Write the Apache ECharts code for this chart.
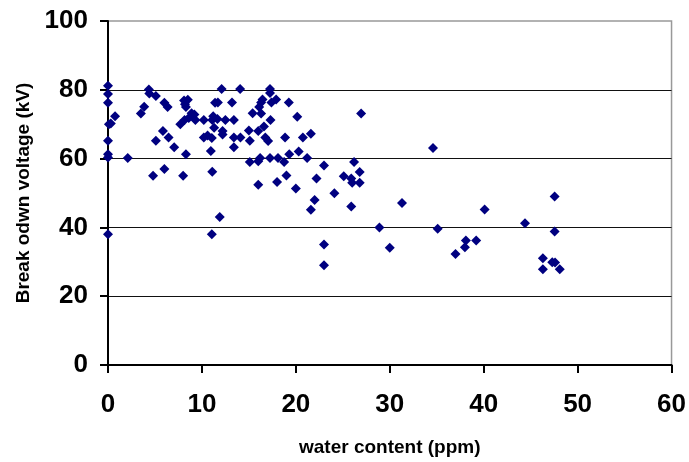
<!DOCTYPE html>
<html>
<head>
<meta charset="utf-8">
<script src="https://cdn.jsdelivr.net/npm/echarts@6/dist/echarts.min.js"></script>
<style>html,body{margin:0;padding:0;background:#fff}#c{width:689px;height:462px}</style>
</head>
<body>
<div id="c"></div>
<script>
// water content (ppm)
const waterContent = [
  0,0,0,0.1,0.3,0,0,0,0,0.75,2.1,
  3.5,3.85,4.35,4.4,5.1,5.1,4.8,5.85,6.0,6.35,6.45,6.0,7.05,7.7,8.0,8.3,
  8.1,8.5,8.2,8.3,8.15,8.6,8.9,9.2,9.3,
  10.2,11.1,10.2,10.6,11.05,11.3,11.2,11.4,11.7,11.65,10.95,11.1,11.05,11.9,
  12.1,12.2,12.2,12.5,13.2,13.4,13.4,13.4,14.07,14.1,
  15.0,15.1,15.1,15.4,16.0,16.0,16.0,16.1,16.3,16.2,16.3,16.45,16.6,16.75,17.05,17.25,17.25,17.3,17.25,17.4,17.9,18.1,18.0,
  18.75,18.85,19.0,19.25,19.3,20.0,20.15,20.3,20.75,21.2,21.6,21.6,22.0,22.2,
  23.0,23.0,23.0,24.1,25.1,25.9,26.0,26.2,25.9,26.8,26.8,26.95,
  28.9,30.0,31.3,34.6,35.1,37.0,38.1,38.0,39.2,40.1,44.4,46.3,46.3,47.3,47.6,47.55,47.55,48.1
];
// break down voltage (kV)
const breakdownVoltage = [
  81.2,78.8,76.2,70,70.2,65.2,61.3,60.3,38,72.3,60.2,
  73.1,75.1,80.1,78.9,78.2,65.2,55,68,76.2,75,66.1,57,63.3,70,55,61.3,
  76.9,77.1,75.8,75,71.2,71.8,73.2,72.8,71.2,
  71.2,71.2,66.1,66.7,66,69,72.3,76.2,76.3,71.5,62.2,56.2,38,43,
  80.2,68,67,71.2,76.3,71.2,66.1,63.3,80.2,66.1,
  68.2,65.2,59,73.2,68,59.2,52.4,75,73.1,60.2,76.3,77.2,69.3,66.1,65.1,80.2,79.1,71.2,60.2,76.3,77.2,60.2,53.2,
  59,66.1,55.1,76.3,61.3,51.3,72.2,62.1,66.1,60.2,67.2,45.1,48,54.2,
  58,35,29,49.9,54.9,54.2,53,59,46.1,56.1,53,73.1,
  40,34.1,47.1,63.1,39.6,32.3,36.2,34.2,36.2,45.2,41.2,31,27.8,29.9,29.8,49,38.8,27.8
];
const xTicks = { min: 0, max: 60, interval: 10 };
const yTicks = { min: 0, max: 100, interval: 20 };

const points = waterContent.map((x, i) => [x, breakdownVoltage[i]]);
const font = 'Liberation Sans, Arial, sans-serif';

const chart = echarts.init(document.getElementById('c'), null, { renderer: 'canvas' });
chart.setOption({
  animation: false,
  backgroundColor: '#fff',
  grid: { left: 108, right: 14, top: 21, bottom: 95, show: true, borderColor: '#999', borderWidth: 1.5 },
  xAxis: {
    type: 'value', min: xTicks.min, max: xTicks.max, interval: xTicks.interval,
    name: 'water content (ppm)', nameLocation: 'middle', nameGap: 73,
    nameTextStyle: { fontFamily: font, fontWeight: 'bold', fontSize: 19, color: '#000' },
    axisLine: { show: true, onZero: false, lineStyle: { color: '#000', width: 2 } },
    axisTick: { show: true, inside: false, length: 8, lineStyle: { color: '#000', width: 2 } },
    axisLabel: { fontFamily: font, fontWeight: 'bold', fontSize: 26, color: '#000', margin: 27 },
    splitLine: { show: false }
  },
  yAxis: {
    type: 'value', min: yTicks.min, max: yTicks.max, interval: yTicks.interval,
    name: 'Break odwn voltage (kV)', nameLocation: 'middle', nameGap: 72,
    nameTextStyle: { fontFamily: font, fontWeight: 'bold', fontSize: 19, color: '#000' },
    axisLine: { show: true, onZero: false, lineStyle: { color: '#000', width: 2 } },
    axisTick: { show: true, inside: false, length: 8, lineStyle: { color: '#000', width: 2 } },
    axisLabel: { fontFamily: font, fontWeight: 'bold', fontSize: 26, color: '#000', margin: 20 },
    splitLine: { show: true, showMinLine: false, showMaxLine: false, lineStyle: { color: '#111', width: 1.2 } }
  },
  series: [{
    type: 'scatter',
    data: points,
    symbol: 'diamond',
    symbolSize: [10, 10],
    itemStyle: { color: '#000080', opacity: 1 }
  }]
});
</script>
</body>
</html>
